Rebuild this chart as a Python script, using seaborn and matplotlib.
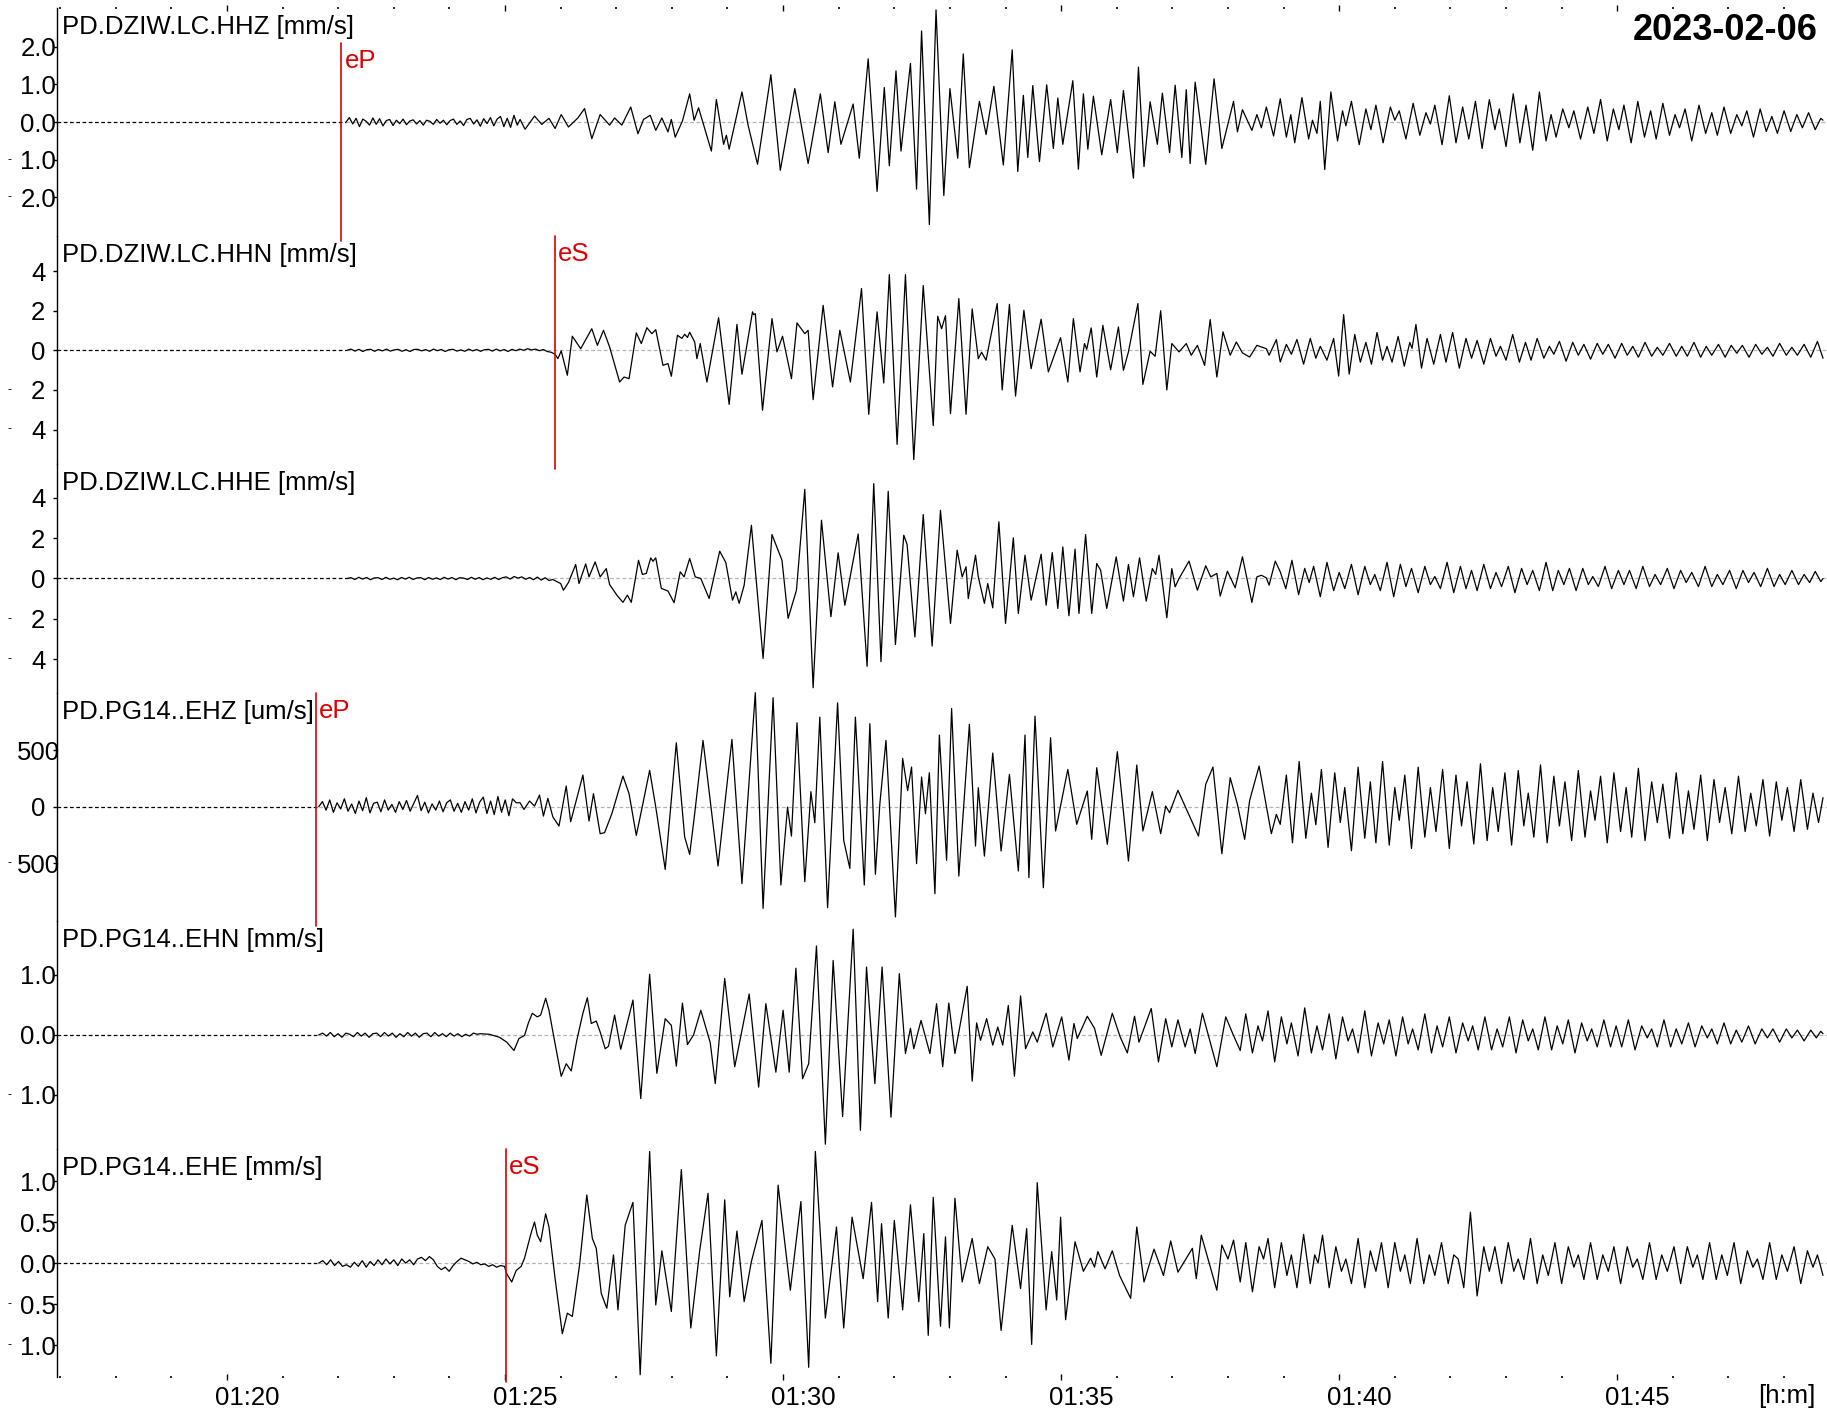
import numpy as np
import pandas as pd
import matplotlib.pyplot as plt
import matplotlib.transforms as mtransforms
import seaborn as sns

sns.set_theme(style="white")
plt.rcParams["font.family"] = ["Liberation Sans", "DejaVu Sans"]

# time axis in minutes after 01:00
t_start = 16.95
t_end = 48.772

# ---------------- PD.DZIW.LC.HHZ [mm/s] ----------------
hhz_noise_span = (22.14, 25.22)
hhz_noise = [0.0, 0.12, -0.05, 0.10, -0.12, 0.08, 0.02, -0.08, 0.11, -0.06, 0.09, -0.10, 0.04,
             0.07, -0.09, 0.05, -0.04, 0.08, -0.07, 0.03, 0.06, -0.05, 0.04, -0.08, 0.05, 0.02,
             -0.06, 0.07, -0.03, 0.05, -0.07, 0.04, 0.08, -0.06, 0.03, -0.09, 0.07, 0.10, -0.05,
             0.06, -0.11, 0.09, -0.04, 0.12, -0.10, 0.08, 0.15, -0.12, 0.10, -0.14, 0.18, -0.08]
hhz_peaks = [
    (25.27, 0.07), (25.36, -0.19), (25.53, 0.16), (25.66, -0.06), (25.79, 0.10), (25.90, -0.17),
    (26.01, 0.20), (26.14, -0.13), (26.31, 0.11), (26.43, 0.36), (26.56, -0.44), (26.71, 0.20),
    (26.88, -0.08), (26.97, 0.11), (27.10, -0.08), (27.26, 0.40), (27.39, -0.31), (27.49, 0.07),
    (27.61, 0.18), (27.71, -0.22), (27.82, 0.11), (27.93, -0.26), (27.99, 0.07), (28.06, -0.40),
    (28.19, 0.03), (28.32, 0.75), (28.40, 0.05), (28.48, 0.38), (28.71, -0.77), (28.80, 0.60),
    (28.93, -0.59), (28.98, -0.35), (29.03, -0.72), (29.26, 0.80), (29.37, -0.08), (29.54, -1.12),
    (29.78, 1.26), (29.95, -1.28), (30.21, 0.89), (30.45, -1.10), (30.67, 0.75), (30.81, -0.81),
    (30.93, 0.54), (31.04, -0.59), (31.26, 0.48), (31.37, -0.96), (31.53, 1.68), (31.69, -1.84),
    (31.82, 0.92), (31.91, -1.16), (32.03, 1.36), (32.12, -0.77), (32.29, 1.56), (32.40, -1.78),
    (32.49, 2.42), (32.63, -2.72), (32.75, 2.98), (32.89, -1.95), (33.00, 0.89), (33.14, -0.96),
    (33.24, 1.81), (33.35, -1.21), (33.53, 0.55), (33.65, -0.33), (33.79, 0.95), (33.96, -1.14),
    (34.12, 1.92), (34.22, -1.31), (34.32, 0.71), (34.40, -0.94), (34.49, 0.97), (34.61, -1.05),
    (34.74, 0.99), (34.86, -0.70), (34.94, 0.64), (35.03, -0.59), (35.21, 1.10), (35.31, -1.25),
    (35.40, 0.75), (35.48, -0.72), (35.58, 0.69), (35.73, -0.87), (35.89, 0.60), (36.01, -0.81),
    (36.12, 0.84), (36.30, -1.49), (36.39, 1.46), (36.49, -1.18), (36.60, 0.54), (36.73, -0.59),
    (36.82, 0.77), (36.95, -0.81), (37.05, 0.98), (37.17, -0.94), (37.25, 0.86), (37.32, -1.10),
    (37.41, 1.06), (37.60, -1.12), (37.75, 1.15), (37.89, -0.70), (38.10, 0.55), (38.17, -0.26),
    (38.26, 0.33), (38.43, -0.22), (38.52, 0.20), (38.60, -0.15), (38.69, 0.40), (38.82, -0.37),
    (38.94, 0.62),
    (39.05, -0.40), (39.13, 0.20), (39.20, -0.55), (39.33, 0.65), (39.45, -0.45), (39.52, 0.05),
    (39.60, -0.30), (39.66, 0.55), (39.74, -1.26), (39.85, 0.80), (39.97, -0.50), (40.06, 0.30),
    (40.12, -0.10), (40.22, 0.55), (40.36, -0.60), (40.48, 0.35), (40.57, -0.20), (40.66, 0.45),
    (40.79, -0.55), (40.92, 0.40), (41.00, 0.05), (41.08, 0.30), (41.20, -0.45), (41.33, 0.50),
    (41.45, -0.35), (41.56, 0.25), (41.64, -0.05), (41.72, 0.45), (41.85, -0.60), (41.98, 0.70),
    (42.10, -0.55), (42.22, 0.40), (42.33, -0.45), (42.45, 0.55), (42.57, -0.70), (42.70, 0.60),
    (42.80, -0.20), (42.88, 0.35), (43.00, -0.65), (43.13, 0.75), (43.25, -0.55), (43.36, 0.45),
    (43.48, -0.75), (43.60, 0.80), (43.72, -0.50), (43.81, 0.20), (43.90, -0.40), (44.02, 0.35),
    (44.13, -0.15), (44.22, 0.30), (44.34, -0.45), (44.47, 0.40), (44.58, -0.30), (44.70, 0.60),
    (44.82, -0.50), (44.93, 0.35), (45.03, -0.20), (45.12, 0.45), (45.25, -0.55), (45.37, 0.55),
    (45.49, -0.40), (45.60, 0.30), (45.70, -0.45), (45.82, 0.50), (45.94, -0.35), (46.04, 0.20),
    (46.12, -0.15), (46.22, 0.35), (46.34, -0.50), (46.47, 0.45), (46.59, -0.30), (46.70, 0.25),
    (46.80, -0.35), (46.92, 0.40), (47.04, -0.30), (47.15, 0.20), (47.24, -0.10), (47.33, 0.30),
    (47.45, -0.40), (47.57, 0.35), (47.68, -0.25), (47.78, 0.15), (47.88, -0.30), (48.00, 0.30),
    (48.12, -0.25), (48.23, 0.20), (48.33, -0.15), (48.44, 0.25), (48.56, -0.20), (48.66, 0.10),
    (48.70, 0.05)]

# ---------------- PD.DZIW.LC.HHN [mm/s] ----------------
hhn_noise_span = (22.16, 25.90)
hhn_noise = [0.0, 0.06, -0.04, 0.05, -0.06, 0.03, 0.05, -0.05, 0.04, -0.03, 0.06, -0.04, 0.02,
             0.05, -0.05, 0.03, -0.06, 0.04, 0.05, -0.03, 0.04, -0.05, 0.06, -0.02, 0.04, -0.06,
             0.03, 0.05, -0.04, 0.02, -0.05, 0.06, -0.03, 0.04, -0.05, 0.03, 0.05, -0.04, 0.06,
             -0.03, 0.04, -0.06, 0.05, -0.02, 0.06, 0.00, 0.08, 0.02, 0.06, -0.02, 0.04, -0.06,
             -0.10, -0.20]
hhn_peaks = [
    (25.95, -0.42), (26.01, -0.03), (26.12, -1.26), (26.21, 0.71), (26.36, 0.08), (26.56, 1.09),
    (26.66, 0.25), (26.77, 1.01), (26.88, 0.17), (27.06, -1.60), (27.14, -1.35), (27.23, -1.43),
    (27.36, 0.88), (27.45, 0.34), (27.55, 1.14), (27.64, 0.84), (27.71, 1.04), (27.84, -0.76),
    (27.93, -0.67), (27.99, -1.31), (28.10, 0.76), (28.18, 0.60), (28.23, 0.81), (28.28, 0.65),
    (28.32, 0.91), (28.41, 0.42), (28.45, -0.42), (28.51, 0.34), (28.63, -1.60), (28.84, 1.65),
    (29.03, -2.73), (29.17, 1.31), (29.26, -1.21), (29.45, 1.94), (29.47, 1.80), (29.50, 1.85),
    (29.63, -3.03), (29.80, 1.60), (29.89, -0.08), (29.99, 0.71), (30.15, -1.43), (30.25, 1.38),
    (30.39, 0.84), (30.45, 1.01), (30.54, -2.49), (30.72, 2.27), (30.89, -1.85), (31.02, 1.01),
    (31.21, -1.60), (31.41, 3.12), (31.54, -3.23), (31.69, 1.94), (31.81, -1.65), (31.91, 3.82),
    (32.05, -4.75), (32.20, 3.82), (32.35, -5.52), (32.52, 3.27), (32.70, -3.80), (32.78, 1.72),
    (32.85, 1.09), (32.92, 1.75), (33.01, -3.20), (33.16, 2.61), (33.29, -3.23), (33.40, 2.09),
    (33.51, -0.42), (33.57, -0.10), (33.65, -0.50), (33.85, 2.36), (33.94, -2.00), (34.07, 2.32),
    (34.18, -2.31), (34.33, 2.02), (34.46, -0.93), (34.64, 1.57), (34.77, -1.09), (34.99, 0.64),
    (35.12, -1.60), (35.22, 1.60), (35.34, -1.09), (35.42, 0.34), (35.46, 0.05), (35.54, 1.13),
    (35.64, -1.35), (35.75, 1.26), (35.89, -0.98), (36.03, 1.18), (36.12, -1.01), (36.21, -0.08),
    (36.38, 2.36), (36.47, -1.72), (36.60, -0.05), (36.69, -0.30), (36.79, 2.00), (36.90, -2.00),
    (36.99, 0.34), (37.12, -0.08), (37.25, 0.34), (37.34, -0.25), (37.45, 0.25), (37.58, -0.76),
    (37.68, 1.55), (37.80, -1.35), (37.91, 0.93), (38.04, -0.25), (38.15, 0.42), (38.26, -0.13),
    (38.39, -0.34), (38.52, 0.25), (38.69, 0.08), (38.74, -0.25), (38.87, 0.54), (38.94, -0.59),
    (39.05, 0.30), (39.14, -0.20), (39.24, 0.55), (39.36, -0.70), (39.48, 0.60), (39.58, -0.40),
    (39.66, 0.20), (39.78, -0.50), (39.90, 0.60), (39.99, -1.30), (40.08, 1.80), (40.18, -1.20),
    (40.28, 0.80), (40.38, -0.60), (40.48, 0.40), (40.58, -0.70), (40.68, 0.90), (40.78, -0.50),
    (40.86, 0.20), (40.95, -0.60), (41.06, 0.70), (41.17, -0.80), (41.27, 0.40), (41.31, 0.10),
    (41.38, 1.30), (41.48, -0.90), (41.58, 0.60), (41.70, -0.70), (41.82, 0.80), (41.92, -0.60),
    (42.04, 0.90), (42.16, -0.90), (42.28, 0.60), (42.38, -0.40), (42.48, 0.50), (42.60, -0.70),
    (42.72, 0.60), (42.82, -0.30), (42.90, 0.20), (43.00, -0.50), (43.12, 0.80), (43.24, -0.60),
    (43.35, 0.40), (43.45, -0.50), (43.56, 0.60), (43.68, -0.40), (43.78, 0.20), (43.86, -0.20),
    (43.96, 0.45), (44.08, -0.55), (44.20, 0.40), (44.30, -0.25), (44.40, 0.30), (44.52, -0.45),
    (44.64, 0.35), (44.74, -0.20), (44.84, 0.30), (44.96, -0.40), (45.08, 0.35), (45.18, -0.25),
    (45.28, 0.20), (45.38, -0.35), (45.50, 0.40), (45.62, -0.30), (45.72, 0.15), (45.82, -0.25),
    (45.94, 0.35), (46.06, -0.30), (46.16, 0.20), (46.26, -0.30), (46.38, 0.40), (46.50, -0.35),
    (46.60, 0.20), (46.70, -0.25), (46.82, 0.30), (46.94, -0.35), (47.05, 0.25), (47.15, -0.15),
    (47.25, 0.25), (47.37, -0.35), (47.49, 0.30), (47.60, -0.20), (47.70, 0.15), (47.80, -0.30),
    (47.92, 0.35), (48.04, -0.25), (48.14, 0.15), (48.24, -0.25), (48.36, 0.30), (48.48, -0.35),
    (48.60, 0.45), (48.70, -0.40)]

# ---------------- PD.DZIW.LC.HHE [mm/s] ----------------
hhe_noise_span = (22.16, 26.00)
hhe_noise = [0.0, 0.04, -0.05, 0.06, -0.03, 0.05, -0.06, 0.03, 0.04, -0.05, 0.06, -0.04, 0.02,
             -0.06, 0.05, -0.03, 0.06, -0.05, 0.03, 0.04, -0.06, 0.05, -0.04, 0.03, -0.05, 0.06,
             -0.03, 0.05, -0.06, 0.04, 0.02, -0.05, 0.06, -0.04, 0.05, -0.06, 0.03, -0.04, 0.06,
             -0.05, 0.04, 0.08, -0.03, 0.10, 0.02, 0.08, -0.04, 0.05, -0.06, 0.07, -0.08, 0.04,
             -0.10, -0.05, -0.15, -0.25]
hhe_peaks = [
    (26.05, -0.58), (26.14, -0.20), (26.27, 0.69), (26.33, -0.25), (26.45, 0.72), (26.51, 0.08),
    (26.62, 0.82), (26.71, 0.08), (26.82, 0.49), (26.88, -0.30), (27.01, -0.82), (27.12, -1.18),
    (27.20, -0.82), (27.27, -1.18), (27.40, 0.90), (27.47, 0.20), (27.54, 0.25), (27.62, 1.02),
    (27.66, 0.85), (27.71, 1.02), (27.81, -0.49), (27.93, -0.62), (28.04, -1.20), (28.15, 0.33),
    (28.22, 0.08), (28.32, 0.99), (28.42, 0.08), (28.52, 0.00), (28.67, -0.99), (28.86, 1.35),
    (28.97, 0.79), (29.09, -1.07), (29.15, -0.66), (29.21, -1.23), (29.30, -0.33), (29.43, 2.63),
    (29.64, -3.95), (29.80, 2.17), (29.98, 0.90), (30.09, -1.97), (30.24, -0.58), (30.39, 4.41),
    (30.54, -5.40), (30.69, 2.88), (30.86, -1.89), (30.99, 1.27), (31.11, -1.32), (31.35, 2.20),
    (31.51, -4.34), (31.63, 4.69), (31.76, -4.11), (31.89, 4.31), (32.02, -3.26), (32.17, 2.14),
    (32.23, 1.68), (32.37, -2.89), (32.52, 3.16), (32.68, -3.34), (32.83, 3.37), (33.01, -2.22),
    (33.13, 1.40), (33.22, 0.08), (33.29, 0.58), (33.33, -0.99), (33.46, 1.15), (33.51, 0.08),
    (33.62, -1.23), (33.68, -0.25), (33.77, -1.45), (33.88, 2.80), (34.00, -2.22), (34.14, 2.01),
    (34.23, -1.73), (34.35, 1.15), (34.46, -1.07), (34.64, 1.20), (34.73, -1.32), (34.84, 1.28),
    (34.94, -1.48), (35.03, 1.56), (35.14, -1.84), (35.25, 1.45), (35.32, -1.73), (35.44, 2.17),
    (35.55, -1.73), (35.64, 0.74), (35.71, 0.41), (35.82, -1.48), (35.99, 1.07), (36.12, -1.12),
    (36.21, 0.69), (36.30, -0.90), (36.41, 1.02), (36.53, -1.12), (36.64, 0.49), (36.70, 0.20),
    (36.76, 1.15), (36.90, -1.94), (36.99, 0.49), (37.05, -0.41), (37.12, 0.00), (37.30, 0.86),
    (37.45, -0.58), (37.60, 0.63), (37.69, 0.08), (37.80, 0.25), (37.86, -0.87), (37.99, 0.36),
    (38.13, -0.46), (38.26, 1.07), (38.43, -1.18), (38.52, 0.08), (38.60, 0.16), (38.69, 0.03),
    (38.74, -0.33), (38.85, 0.86), (38.94, 0.33),
    (39.04, -0.50), (39.15, 0.90), (39.27, -0.80), (39.38, 0.50), (39.46, -0.20), (39.54, 0.60),
    (39.66, -0.90), (39.78, 0.80), (39.90, -0.60), (40.00, 0.30), (40.10, -0.50), (40.22, 0.70),
    (40.34, -0.80), (40.46, 0.60), (40.56, -0.30), (40.64, 0.20), (40.74, -0.60), (40.86, 0.80),
    (40.98, -0.90), (41.10, 0.70), (41.20, -0.40), (41.30, 0.50), (41.42, -0.70), (41.54, 0.60),
    (41.64, -0.30), (41.72, 0.10), (41.82, -0.50), (41.94, 0.80), (42.06, -0.70), (42.18, 0.60),
    (42.28, -0.50), (42.38, 0.40), (42.48, -0.60), (42.60, 0.70), (42.72, -0.50), (42.82, 0.30),
    (42.92, -0.40), (43.04, 0.60), (43.16, -0.70), (43.28, 0.50), (43.38, -0.30), (43.48, 0.40),
    (43.60, -0.60), (43.72, 0.80), (43.84, -0.60), (43.94, 0.40), (44.04, -0.30), (44.14, 0.50),
    (44.26, -0.60), (44.38, 0.50), (44.48, -0.30), (44.56, 0.10), (44.66, -0.40), (44.78, 0.60),
    (44.90, -0.50), (45.02, 0.40), (45.12, -0.30), (45.22, 0.40), (45.34, -0.50), (45.46, 0.60),
    (45.58, -0.40), (45.68, 0.20), (45.78, -0.30), (45.90, 0.50), (46.02, -0.50), (46.14, 0.40),
    (46.24, -0.20), (46.34, 0.30), (46.46, -0.40), (46.58, 0.60), (46.70, -0.40), (46.80, 0.20),
    (46.90, -0.30), (47.02, 0.40), (47.14, -0.50), (47.26, 0.40), (47.36, -0.20), (47.46, 0.30),
    (47.58, -0.40), (47.70, 0.50), (47.82, -0.40), (47.92, 0.20), (48.02, -0.30), (48.14, 0.40),
    (48.26, -0.30), (48.36, 0.20), (48.46, -0.20), (48.56, 0.35), (48.66, -0.15), (48.70, 0.00)]

# ---------------- PD.PG14..EHZ [um/s] ----------------
ehz_noise_span = (21.65, 25.20)
ehz_noise = [0, 45, -30, 60, -50, 35, -20, 70, -40, 25, -60, 50, -35, 80, -55, 30, 40, -45, 60,
             -30, 20, -50, 45, -25, 55, -40, 30, 100, -35, 40, -55, 25, -30, 50, -45, 35, 60, -40,
             30, -50, 45, -30, 70, -55, 40, 85, -60, 50, -70, 90, -50, 60, -80, 70, 35]
ehz_peaks = [
    (25.27, 35), (25.34, -24), (25.44, 50), (25.53, 6), (25.62, 103), (25.69, -83), (25.77, 74),
    (25.86, -91), (25.97, -171), (26.10, 183), (26.18, -133), (26.27, 35), (26.40, 280),
    (26.51, -127), (26.59, 115), (26.71, -239), (26.79, -230), (26.92, -62), (27.12, 271),
    (27.23, 115), (27.36, -254), (27.47, 6), (27.60, 322), (27.71, -3), (27.88, -555),
    (28.08, 566), (28.23, -268), (28.32, -422), (28.41, -62), (28.56, 587), (28.83, -525),
    (29.08, 596), (29.26, -681), (29.50, 1009), (29.64, -900), (29.82, 965), (29.96, -693),
    (30.08, -3), (30.15, -260), (30.25, 743), (30.39, -664), (30.50, 133), (30.57, -142),
    (30.66, 793), (30.80, -894), (30.98, 920), (31.09, -298), (31.20, -546), (31.30, 793),
    (31.46, -693), (31.56, 735), (31.66, -599), (31.74, 27), (31.85, 587), (32.02, -976),
    (32.15, 428), (32.24, 142), (32.31, 351), (32.40, -504), (32.49, 263), (32.56, -62),
    (32.63, 301), (32.73, -770), (32.81, 634), (32.94, -475), (33.03, 870), (33.16, -614),
    (33.35, 729), (33.46, -348), (33.51, 168), (33.62, -437), (33.77, 475), (33.92, -392),
    (34.07, 286), (34.23, -569), (34.35, 634), (34.42, -628), (34.53, 802), (34.68, -717),
    (34.81, 611), (34.90, -215), (35.12, 330), (35.28, -156), (35.47, 139), (35.55, -289),
    (35.64, 345), (35.83, -333), (36.01, 487), (36.21, -481), (36.36, 369), (36.47, -215),
    (36.64, 133), (36.79, -239), (36.88, 6), (36.95, -53), (37.10, 145), (37.30, -74),
    (37.47, -260), (37.60, 198), (37.73, 351), (37.89, -416), (38.04, 257), (38.17, 21),
    (38.30, -289), (38.39, 56), (38.56, 360), (38.78, -239), (38.87, -68), (38.94, -156),
    (39.05, 280), (39.16, -320), (39.28, 400), (39.40, -280), (39.50, 120), (39.58, -160),
    (39.68, 330), (39.80, -360), (39.92, 300), (40.02, -140), (40.10, 170), (40.22, -390),
    (40.34, 350), (40.46, -280), (40.56, 220), (40.66, -320), (40.78, 400), (40.90, -340),
    (41.00, 170), (41.08, -120), (41.18, 280), (41.30, -370), (41.42, 350), (41.54, -270),
    (41.64, 170), (41.74, -220), (41.86, 330), (41.98, -370), (42.10, 280), (42.20, -170),
    (42.30, 220), (42.42, -330), (42.54, 380), (42.66, -300), (42.76, 170), (42.86, -220),
    (42.98, 300), (43.10, -340), (43.22, 320), (43.32, -170), (43.40, 120), (43.50, -270),
    (43.62, 370), (43.74, -320), (43.86, 270), (43.96, -170), (44.06, 220), (44.18, -300),
    (44.30, 320), (44.42, -270), (44.52, 140), (44.60, -120), (44.70, 270), (44.82, -320),
    (44.94, 300), (45.06, -220), (45.16, 170), (45.26, -270), (45.38, 340), (45.50, -300),
    (45.62, 220), (45.72, -140), (45.82, 200), (45.94, -280), (46.06, 300), (46.18, -240),
    (46.28, 140), (46.38, -200), (46.50, 280), (46.62, -300), (46.74, 240), (46.84, -140),
    (46.94, 170), (47.06, -240), (47.18, 270), (47.30, -220), (47.40, 120), (47.50, -170),
    (47.62, 240), (47.74, -260), (47.86, 220), (47.96, -120), (48.06, 170), (48.18, -220),
    (48.30, 240), (48.42, -200), (48.52, 120), (48.62, -140), (48.70, 80)]

# ---------------- PD.PG14..EHN [mm/s] ----------------
ehn_noise_span = (21.65, 24.50)
ehn_noise = [0.0, 0.03, -0.02, 0.04, -0.03, 0.02, -0.04, 0.03, 0.01, -0.03, 0.04, -0.02, 0.03,
             -0.04, 0.02, 0.03, -0.03, 0.04, -0.02, 0.03, -0.04, 0.02, -0.03, 0.04, -0.02, 0.03,
             -0.04, 0.02, 0.03, -0.03, 0.04, -0.02, 0.02, -0.03, 0.03, -0.02, 0.02, -0.03, 0.01,
             -0.02, 0.03, 0.01]
ehn_peaks = [
    (24.55, 0.02), (24.72, 0.01), (24.90, -0.04), (25.03, -0.12), (25.16, -0.26), (25.25, -0.06),
    (25.35, -0.01), (25.42, 0.20), (25.49, 0.36), (25.58, 0.30), (25.64, 0.33), (25.73, 0.61),
    (25.79, 0.41), (25.87, 0.00), (26.01, -0.69), (26.10, -0.48), (26.19, -0.60), (26.29, -0.09),
    (26.40, 0.36), (26.48, 0.62), (26.55, 0.19), (26.64, 0.23), (26.71, 0.05), (26.80, -0.23),
    (26.86, -0.19), (26.97, 0.33), (27.08, -0.24), (27.30, 0.58), (27.44, -1.06), (27.60, 1.01),
    (27.73, -0.64), (27.88, 0.27), (27.99, 0.16), (28.08, -0.52), (28.19, 0.53), (28.28, -0.16),
    (28.39, 0.00), (28.52, 0.41), (28.69, -0.13), (28.78, -0.81), (28.95, 0.94), (29.13, -0.53),
    (29.39, 0.68), (29.56, -0.87), (29.69, 0.52), (29.87, -0.62), (30.00, 0.41), (30.11, -0.62),
    (30.23, 1.11), (30.35, -0.73), (30.46, -0.48), (30.60, 1.48), (30.76, -1.82), (30.90, 1.24),
    (31.07, -1.36), (31.26, 1.76), (31.39, -1.59), (31.50, 1.13), (31.65, -0.81), (31.78, 1.13),
    (31.94, -1.37), (32.09, 1.02), (32.20, -0.31), (32.29, 0.11), (32.35, -0.23), (32.48, 0.24),
    (32.64, -0.31), (32.76, 0.52), (32.87, -0.53), (32.98, 0.53), (33.09, -0.31), (33.31, 0.81),
    (33.40, -0.77), (33.48, 0.20), (33.55, -0.09), (33.66, 0.27), (33.77, -0.17), (33.86, 0.13),
    (33.95, -0.17), (34.05, 0.49), (34.16, -0.69), (34.27, 0.65), (34.36, -0.23), (34.49, 0.05),
    (34.57, -0.12), (34.73, 0.36), (34.85, -0.20), (35.01, 0.30), (35.14, -0.42), (35.23, 0.19),
    (35.29, -0.06), (35.47, 0.31), (35.60, 0.11), (35.72, -0.34), (35.92, 0.36), (36.06, -0.03),
    (36.19, -0.30), (36.32, 0.31), (36.40, -0.12), (36.62, 0.44), (36.75, -0.45), (36.88, 0.27),
    (36.99, -0.20), (37.10, 0.25), (37.23, -0.20), (37.32, 0.10), (37.41, -0.31), (37.54, 0.36),
    (37.80, -0.53), (37.96, 0.30), (38.10, -0.01), (38.22, -0.26),
    (38.32, 0.35), (38.44, -0.30), (38.54, 0.15), (38.62, -0.10), (38.72, 0.40), (38.84, -0.45),
    (38.96, 0.30), (39.06, -0.15), (39.14, 0.20), (39.26, -0.35), (39.38, 0.45), (39.50, -0.30),
    (39.60, 0.15), (39.70, -0.25), (39.82, 0.35), (39.94, -0.40), (40.06, 0.30), (40.16, -0.10),
    (40.24, 0.10), (40.34, -0.30), (40.46, 0.40), (40.58, -0.35), (40.70, 0.20), (40.80, -0.15),
    (40.90, 0.25), (41.02, -0.35), (41.14, 0.30), (41.24, -0.15), (41.32, 0.10), (41.42, -0.25),
    (41.54, 0.35), (41.66, -0.30), (41.76, 0.15), (41.86, -0.20), (41.98, 0.30), (42.10, -0.30),
    (42.22, 0.20), (42.32, -0.10), (42.40, 0.15), (42.50, -0.25), (42.62, 0.30), (42.74, -0.25),
    (42.84, 0.10), (42.94, -0.20), (43.06, 0.30), (43.18, -0.30), (43.30, 0.25), (43.40, -0.10),
    (43.48, 0.10), (43.58, -0.25), (43.70, 0.30), (43.82, -0.25), (43.92, 0.15), (44.02, -0.15),
    (44.12, 0.25), (44.24, -0.30), (44.36, 0.20), (44.46, -0.10), (44.54, 0.10), (44.64, -0.20),
    (44.76, 0.25), (44.88, -0.20), (44.98, 0.15), (45.08, -0.20), (45.20, 0.25), (45.32, -0.25),
    (45.44, 0.15), (45.54, -0.05), (45.62, 0.10), (45.72, -0.20), (45.84, 0.25), (45.96, -0.20),
    (46.06, 0.10), (46.16, -0.15), (46.28, 0.20), (46.40, -0.20), (46.52, 0.15), (46.62, -0.05),
    (46.70, 0.10), (46.80, -0.15), (46.92, 0.20), (47.04, -0.15), (47.14, 0.08), (47.24, -0.12),
    (47.36, 0.15), (47.48, -0.15), (47.60, 0.10), (47.70, -0.05), (47.80, 0.10), (47.92, -0.12),
    (48.04, 0.10), (48.14, -0.05), (48.24, 0.08), (48.36, -0.10), (48.48, 0.08), (48.58, -0.05),
    (48.66, 0.06), (48.70, 0.02)]

# ---------------- PD.PG14..EHE [mm/s] ----------------
ehe_noise_span = (21.65, 24.99)
ehe_noise = [0.0, 0.03, -0.02, 0.04, -0.03, 0.02, -0.04, -0.02, -0.05, 0.01, -0.04, 0.03, -0.05,
             0.02, -0.03, 0.04, -0.02, 0.05, -0.01, 0.04, -0.03, 0.05, 0.00, 0.04, -0.02, 0.05,
             0.07, 0.03, 0.08, 0.04, -0.04, -0.08, -0.05, -0.10, -0.03, 0.02, 0.06, 0.04, 0.02,
             -0.01, 0.01, -0.02, -0.01, -0.04, -0.02, -0.05, -0.03, -0.04]
ehe_peaks = [
    (25.03, -0.13), (25.12, -0.23), (25.20, -0.09), (25.29, -0.04), (25.35, 0.06), (25.47, 0.37),
    (25.53, 0.50), (25.58, 0.34), (25.64, 0.26), (25.73, 0.60), (25.79, 0.44), (25.90, -0.19),
    (26.03, -0.86), (26.12, -0.61), (26.21, -0.65), (26.34, -0.02), (26.47, 0.83), (26.57, 0.30),
    (26.64, 0.18), (26.73, -0.37), (26.83, -0.55), (26.95, 0.10), (27.03, -0.57), (27.16, 0.46),
    (27.30, 0.74), (27.43, -1.36), (27.60, 1.36), (27.71, -0.51), (27.82, 0.15), (27.99, -0.59),
    (28.17, 1.14), (28.34, -0.79), (28.50, 0.15), (28.65, 0.85), (28.80, -1.13), (28.95, 0.77),
    (29.04, -0.41), (29.17, 0.39), (29.30, -0.47), (29.43, 0.02), (29.62, 0.52), (29.78, -1.22),
    (29.91, 0.95), (30.13, -0.33), (30.32, 0.75), (30.46, -1.27), (30.58, 1.36), (30.76, -0.67),
    (30.96, 0.44), (31.09, -0.79), (31.24, 0.56), (31.44, -0.19), (31.59, 0.74), (31.70, -0.47),
    (31.77, 0.48), (31.89, -0.67), (32.00, 0.52), (32.15, -0.57), (32.29, 0.71), (32.44, -0.47),
    (32.53, 0.36), (32.61, -0.88), (32.70, 0.80), (32.83, -0.77), (32.92, 0.32), (32.99, -0.79),
    (33.09, 0.79), (33.22, -0.23), (33.40, 0.30), (33.53, -0.25), (33.68, 0.20), (33.81, 0.05),
    (33.92, -0.82), (34.12, 0.46), (34.27, -0.31), (34.38, 0.42), (34.47, -0.99), (34.57, 0.98),
    (34.73, -0.57), (34.83, 0.14), (34.92, -0.45), (34.99, 0.56), (35.08, -0.69), (35.25, 0.26),
    (35.40, -0.10), (35.53, 0.06), (35.60, -0.05), (35.66, 0.14), (35.79, -0.07), (35.92, 0.15),
    (36.05, -0.15), (36.25, -0.43), (36.36, 0.44), (36.49, -0.23), (36.67, 0.17), (36.84, -0.15),
    (36.97, 0.27), (37.10, -0.11), (37.36, 0.18), (37.43, -0.19), (37.52, 0.34), (37.80, -0.33),
    (37.89, 0.22), (38.00, 0.05), (38.10, 0.28), (38.22, -0.23),
    (38.32, 0.25), (38.44, -0.35), (38.56, 0.20), (38.64, 0.05), (38.72, 0.30), (38.84, -0.30),
    (38.96, 0.25), (39.06, -0.15), (39.14, 0.10), (39.24, -0.30), (39.36, 0.35), (39.48, -0.25),
    (39.56, 0.10), (39.62, 0.00), (39.70, 0.34), (39.82, -0.30), (39.94, 0.20), (40.04, -0.10),
    (40.12, 0.05), (40.22, -0.25), (40.34, 0.30), (40.46, -0.30), (40.56, 0.15), (40.66, -0.10),
    (40.76, 0.25), (40.88, -0.30), (41.00, 0.25), (41.10, -0.10), (41.18, 0.10), (41.28, -0.25),
    (41.40, 0.30), (41.52, -0.25), (41.62, 0.10), (41.72, -0.15), (41.84, 0.25), (41.96, -0.25),
    (42.06, 0.10), (42.14, 0.05), (42.24, -0.30), (42.36, 0.62), (42.48, -0.40), (42.60, 0.20),
    (42.70, -0.10), (42.80, 0.20), (42.92, -0.25), (43.04, 0.25), (43.14, -0.10), (43.22, 0.05),
    (43.32, -0.20), (43.44, 0.30), (43.56, -0.25), (43.66, 0.10), (43.76, -0.15), (43.88, 0.25),
    (44.00, -0.25), (44.12, 0.20), (44.22, -0.05), (44.30, 0.10), (44.40, -0.20), (44.52, 0.25),
    (44.64, -0.20), (44.74, 0.10), (44.84, -0.10), (44.94, 0.20), (45.06, -0.25), (45.18, 0.20),
    (45.28, -0.05), (45.36, 0.05), (45.46, -0.20), (45.58, 0.25), (45.70, -0.20), (45.80, 0.10),
    (45.90, -0.10), (46.02, 0.20), (46.14, -0.25), (46.26, 0.20), (46.36, -0.05), (46.44, 0.10),
    (46.54, -0.20), (46.66, 0.25), (46.78, -0.20), (46.88, 0.10), (46.98, -0.15), (47.10, 0.25),
    (47.22, -0.25), (47.34, 0.15), (47.44, -0.05), (47.52, 0.05), (47.62, -0.20), (47.74, 0.25),
    (47.86, -0.20), (47.96, 0.10), (48.06, -0.10), (48.18, 0.20), (48.30, -0.25), (48.42, 0.15),
    (48.52, -0.05), (48.60, 0.10), (48.70, -0.15)]

# phase picks: (panel, time, label)
picks = [(0, 22.057, "eP"), (1, 25.891, "eS"), (3, 21.597, "eP"), (5, 25.012, "eS")]

traces = [
    dict(name="PD.DZIW.LC.HHZ [mm/s]", span=hhz_noise_span, noise=hhz_noise, peaks=hhz_peaks,
         lim=3.03, ticks=[2, 1, 0, -1, -2], fmt="{:.1f}"),
    dict(name="PD.DZIW.LC.HHN [mm/s]", span=hhn_noise_span, noise=hhn_noise, peaks=hhn_peaks,
         lim=5.76, ticks=[4, 2, 0, -2, -4], fmt="{:.0f}"),
    dict(name="PD.DZIW.LC.HHE [mm/s]", span=hhe_noise_span, noise=hhe_noise, peaks=hhe_peaks,
         lim=5.64, ticks=[4, 2, 0, -2, -4], fmt="{:.0f}"),
    dict(name="PD.PG14..EHZ [um/s]", span=ehz_noise_span, noise=ehz_noise, peaks=ehz_peaks,
         lim=1010, ticks=[500, 0, -500], fmt="{:.0f}"),
    dict(name="PD.PG14..EHN [mm/s]", span=ehn_noise_span, noise=ehn_noise, peaks=ehn_peaks,
         lim=1.90, ticks=[1, 0, -1], fmt="{:.1f}"),
    dict(name="PD.PG14..EHE [mm/s]", span=ehe_noise_span, noise=ehe_noise, peaks=ehe_peaks,
         lim=1.39, ticks=[1, 0.5, 0, -0.5, -1], fmt="{:.1f}"),
]

W, H = 1827, 1414
fig = plt.figure(figsize=(W / 100, H / 100), dpi=100)
left_px = 57.4
top_px = 8
panel_h = 228.2
fs = 18.5
red = "#dd0000"

axes = []
for k, tr in enumerate(traces):
    top = top_px + panel_h * k
    ax = fig.add_axes([left_px / W, 1 - (top + panel_h) / H, (W - left_px) / W, panel_h / H])
    ax.patch.set_alpha(0)
    axes.append(ax)

    noise_t = np.linspace(tr["span"][0], tr["span"][1], len(tr["noise"]))
    pk_t, pk_v = zip(*tr["peaks"])
    df = pd.DataFrame({"t": np.concatenate([noise_t, pk_t]),
                       "v": np.concatenate([tr["noise"], pk_v])})

    # zero line: black before the record starts, grey below the trace
    ax.plot([t_start, tr["span"][0]], [0, 0], color="black", lw=0.9, ls=(0, (3, 2)), zorder=1)
    ax.plot([tr["span"][0], t_end], [0, 0], color="#b4b4b4", lw=0.9, ls=(0, (3, 2)), zorder=1)

    sns.lineplot(data=df, x="t", y="v", ax=ax, color="black", lw=0.9,
                 estimator=None, sort=False, errorbar=None, zorder=2)
    for ln in ax.lines:
        ln.set_clip_on(False)

    ax.set_xlim(t_start, t_end)
    ax.set_ylim(-tr["lim"], tr["lim"])
    ax.set_xlabel("")
    ax.set_ylabel("")

    for s in ["top", "right", "bottom"]:
        ax.spines[s].set_visible(False)
    ax.spines["left"].set_color("black")
    ax.spines["left"].set_linewidth(1.0)

    ax.set_yticks(tr["ticks"])
    ax.set_yticklabels([tr["fmt"].format(abs(v)) for v in tr["ticks"]])
    ax.tick_params(axis="y", left=True, direction="out", length=3, width=1, color="black",
                   labelsize=fs, labelcolor="black", pad=10.8)
    for lab in ax.get_yticklabels():
        lab.set_horizontalalignment("center")
    trans_minus = mtransforms.blended_transform_factory(fig.transFigure, ax.transData)
    for v in tr["ticks"]:
        if v < 0:
            ax.text(10 / W, v, "-", transform=trans_minus, ha="center", va="center",
                    fontsize=9, color="black")

    ax.set_xticks([20, 25, 30, 35, 40, 45])
    ax.set_xticks(np.arange(17, 49), minor=True)
    if k == 0:
        ax.xaxis.tick_top()
        ax.tick_params(axis="x", which="both", top=True, bottom=False,
                       labeltop=False, labelbottom=False, color="black")
        ax.tick_params(axis="x", which="major", direction="inout", length=5, width=1)
        ax.tick_params(axis="x", which="minor", direction="inout", length=2, width=1.2)
    elif k == len(traces) - 1:
        ax.set_xticklabels([f"01:{m:02d}" for m in [20, 25, 30, 35, 40, 45]])
        ax.tick_params(axis="x", which="both", bottom=True, top=False, color="black",
                       labelsize=fs, labelcolor="black")
        ax.tick_params(axis="x", which="major", direction="inout", length=5, width=1, pad=3.5)
        ax.tick_params(axis="x", which="minor", direction="inout", length=2, width=1.2)
        shift = mtransforms.ScaledTranslation(20 / 100, 0, fig.dpi_scale_trans)
        for lab in ax.get_xticklabels():
            lab.set_transform(lab.get_transform() + shift)
    else:
        ax.tick_params(axis="x", which="both", bottom=False, top=False,
                       labelbottom=False, labeltop=False)

    ax.text(0.0024, 1 - 26 / panel_h, tr["name"], transform=ax.transAxes,
            fontsize=fs, ha="left", va="baseline", color="black")

for k, t, lab in picks:
    ax = axes[k]
    ymax = 1 - 35 / panel_h if k == 0 else 1.0
    ax.axvline(t, ymin=-5 / panel_h, ymax=ymax, color=red, lw=1.2, clip_on=False, zorder=3)
    off = mtransforms.ScaledTranslation(3 / 100, 0, fig.dpi_scale_trans)
    trans = mtransforms.blended_transform_factory(ax.transData, ax.transAxes) + off
    ax.text(t, ymax - 25 / panel_h, lab, transform=trans, color=red, fontsize=fs,
            ha="left", va="baseline")

fig.text(1818 / W, 1 - 40 / H, "2023-02-06", ha="right", va="baseline",
         fontsize=26, fontweight="bold", color="black")
fig.text(1787 / W, 1 - 1384 / H, "[h:m]", ha="center", va="top", fontsize=fs, color="black")

fig.savefig("out.png", dpi=100)
